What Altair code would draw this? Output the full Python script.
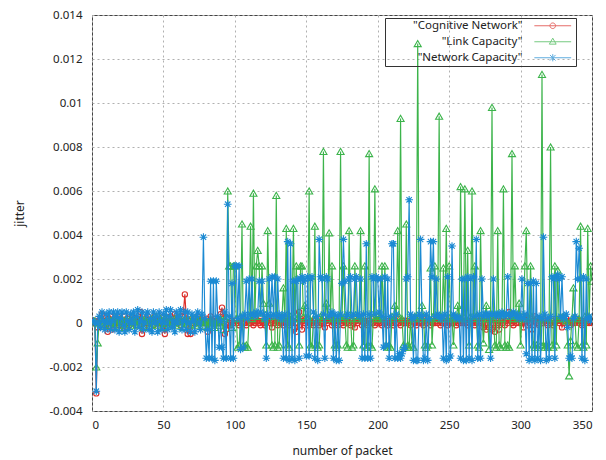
import altair as alt
import pandas as pd

# values in units of 1e-4 (jitter), packets 1..350
packets = list(range(1, 351))

cognitive = [
    0, 1, -32, -2, 1, 2, 4, 3, 1, -1,
    -4, 2, 3, -3, 1, 2, 0, 3, -1, 2,
    1, -2, 3, 0, 2, -1, 1, 3, 0, 2,
    -1, 2, 1, 5, -5, 2, 1, 0, 3, -2,
    1, 2, -1, 3, 0, 2, 1, -2, 1, 3,
    -5, 2, 0, 1, 3, -1, 2, 4, 1, 0,
    2, -1, 3, 5, 13, 2, -5, 1, -5, 0,
    2, 1, 0, 3, 1, 2, 0, 1, 0, 2,
    -4, 1, 3, 0, 1, 2, 0, 1, 0, 4,
    7, 3, -5, -3, -1, 0, -1, 1, 0, 1,
    1, 0, -1, 1, 0, 2, 0, -1, 1, 0,
    0, 1, -1, 0, 2, 1, 0, -1, 1, 0,
    -1, 0, 1, 2, 0, -2, 1, 0, 2, -1,
    0, 1, 0, -1, 1, 2, 0, -1, 1, 0,
    1, -2, -4, 0, 5, 2, -3, 1, 0, 2,
    -1, 0, 1, 0, -1, 1, 0, 2, -1, 0,
    1, 0, -2, 1, 0, 2, 1, -1, 0, 1,
    0, -1, 1, 2, 0, -1, 1, 0, 2, 0,
    -1, 1, 0, -2, 1, 0, 3, 1, -1, 0,
    1, 0, -1, 1, 0, 2, 0, -1, 1, 0,
    1, 0, -1, 2, 0, 1, -1, 0, 1, 0,
    -1, 1, 0, 2, 0, -1, 1, 0, 1, 0,
    1, 0, -1, 1, 2, 0, -1, 1, 0, 1,
    0, -1, 1, 0, 2, 1, -1, 0, 1, 0,
    1, 0, 2, -1, 0, 1, 0, 1, -1, 0,
    1, 0, 0, 1, -1, 0, 1, 0, 1, 0,
    1, 0, -1, 0, 1, 0, 1, -1, 0, 1,
    0, 1, 0, -2, 1, -3, 0, -2, 1, -3,
    0, -4, 1, 0, -3, 1, 0, 2, -1, 1,
    0, 5, 1, 0, -1, 1, 0, 2, 0, 1,
    0, -2, 1, 3, -1, 0, 2, -3, 1, 3,
    0, 2, -1, 1, 0, 2, 1, 0, -1, 1,
    0, 1, -1, 0, 2, 1, 0, 1, -2, 0,
    1, 2, 0, 1, -1, 0, 1, 0, 2, 1,
    0, 1, -1, 0, 1, 0, 1, 0, 1, 0,
]

link = [
    0, 1, -20, -9, 0, 1, 2, 0, -1, 1,
    -1, 2, 0, 1, -2, 1, 3, 0, -1, 2,
    0, 1, -2, 2, 1, 0, -1, 3, 1, 0,
    2, -1, 1, 0, 2, -2, 1, 3, 0, 1,
    -1, 2, 0, 1, 3, -1, 0, 2, 1, -2,
    1, 3, 0, -1, 2, 1, 0, 2, -1, 1,
    3, 0, 1, -2, 2, 1, 0, -1, 2, 1,
    0, 2, -1, 1, 0, 2, 1, -1, 0, 1,
    -2, 0, 2, -1, 0, -2, 1, -1, 0, 2,
    1, -3, 2, 3, 60, 26, 26, -2, 26, 26,
    2, -11, -10, 3, 45, -10, -11, -10, -11, 3,
    44, 2, 59, 3, 26, 33, 26, 3, 26, 9,
    2, -10, 42, 9, 3, -10, -11, -10, 58, -11,
    -10, 2, 3, 16, 2, 43, -10, -11, 3, 2,
    43, 3, 26, 2, -10, 26, 26, 3, 8, 2,
    3, 60, -10, -11, 2, 44, -10, -11, -10, 3,
    2, 78, 3, 9, 2, 41, 3, 26, 2, -10,
    -11, -10, 3, 78, 2, 26, 3, -10, -11, 42,
    2, -11, -10, 26, 3, 2, 3, 42, 2, -10,
    26, -11, -10, 77, -10, -11, 3, 61, 2, 3,
    2, 3, 26, 2, 26, -10, -11, -10, -11, 3,
    2, 8, 3, 42, 3, 93, 2, -10, -11, 45,
    -10, -11, 2, -10, -11, 3, 2, 127, 3, 2,
    8, 3, -10, -11, -10, 2, 25, -10, 3, 26,
    3, 2, 94, 3, 2, 25, 3, 43, 2, 26,
    3, 2, -10, 3, 2, 8, 3, 62, 2, 3,
    61, 2, 33, -10, 3, 60, 2, 26, 3, -10,
    -11, 42, 2, -9, 3, 8, 2, -12, 3, 98,
    2, -10, -11, 42, -10, -11, 2, 61, -10, -11,
    -10, -11, 3, 77, 2, 26, 3, 2, 9, -10,
    3, 2, 26, 42, 3, 2, 26, 3, -10, -11,
    -10, -11, 2, -10, 113, -10, -11, -10, -11, 2,
    80, -10, -11, 26, -10, 24, 2, 3, 2, 3,
    2, 1, -10, -24, -8, 2, 16, 3, -10, -11,
    2, 44, -10, -11, 3, -10, 43, 3, 26, 19,
]

network = [
    1, 0, -31, 0, 3, -2, 5, 1, -3, 4,
    0, 5, -3, 1, 5, -3, 3, 5, -4, 2,
    5, -1, -4, 5, 1, -3, 4, 0, 5, -4,
    3, 6, -2, 1, 5, -3, 0, 4, 5, -3,
    2, -4, 5, 0, 3, -4, 5, 1, -3, 4,
    0, 6, -3, 3, 6, -2, 1, -4, 5, 0,
    3, 6, -3, 1, 5, -3, 5, 0, -4, 4,
    1, -4, 3, 5, 0, -3, 4, 39, 2, -16,
    -3, -16, 19, -16, 19, -17, 19, 3, -11, 1,
    -11, -16, 5, -16, 54, 3, -16, 18, -16, 26,
    26, 2, 26, -12, 3, -11, 4, 19, 2, 20,
    4, 20, 4, 3, 5, 4, 19, 5, 19, 4,
    2, -16, 4, 20, 3, 21, 4, 21, 3, 20,
    4, 2, 3, -16, 4, -16, 37, -17, 36, -16,
    19, -17, 19, 20, -16, 20, 21, 19, 20, -15,
    21, -15, 20, 21, 5, -16, 3, -17, 38, 21,
    20, 4, -16, 21, 20, 3, 4, 5, -16, 4,
    -17, 3, -17, 4, 18, 38, 19, 3, 4, 20,
    21, 3, 4, 20, 21, 4, 3, 20, -16, 4,
    -16, 36, -16, 4, -16, 21, 20, 4, 21, 20,
    5, 20, 3, -11, 21, -10, 20, -16, 3, 36,
    36, -16, 4, -16, -14, -16, -14, -12, -11, 20,
    21, 56, 4, 2, -17, 3, -17, -17, 4, 38,
    3, -17, -16, 4, -17, 2, 37, 21, 37, 3,
    20, 4, 3, 2, 3, -16, 4, -17, 21, -16,
    -15, 35, 4, 3, 2, 3, 2, -16, 20, -17,
    20, -17, 21, -16, 20, -17, 21, 3, 38, -16,
    4, -16, 20, 3, 4, 4, 3, 4, -16, 4,
    20, 4, 3, 4, 4, 3, 5, 4, 3, 4,
    21, 4, 3, 4, 5, 4, 3, 4, 2, 3,
    20, 2, 4, -14, 18, -17, 18, -16, 19, -17,
    18, -16, 3, -17, 2, 39, 4, -17, 2, -16,
    3, 21, 20, -16, 21, 22, 20, 3, 21, 2,
    3, 4, -2, -16, -15, -16, 2, 3, 37, 20,
    34, 20, -16, 21, -17, 20, 2, 3, 1, 2,
]

SERIES = ['"Cognitive Network"', '"Link Capacity"', '"Network Capacity"']
COLORS = ["#dc2f2a", "#3cb44b", "#1b8ad3"]
MARKERS = [
    "circle",
    "triangle-up",
    "M-1,0L1,0M0,-1L0,1M-0.7,-0.7L0.7,0.7M-0.7,0.7L0.7,-0.7",
]
MARKER_SIZES = [28, 50, 60]
# legend sample: (invisible anchor at left) + line segment + marker, drawn to the right of the label
LEGEND_SYMBOLS = [
    "M-2.5,0M35.4,0L44.6,0M40.7,0A0.7,0.7,0,1,1,39.3,0A0.7,0.7,0,1,1,40.7,0",
    "M-2.5,0M35.4,0L44.6,0M40,-0.9L40.85,0.6L39.15,0.6Z",
    "M-2.5,0M35.4,0L44.6,0M40,-0.9L40,0.9M39.3,-0.7L40.7,0.7M39.3,0.7L40.7,-0.7",
]
X_TICKS = [0, 50, 100, 150, 200, 250, 300, 350]
Y_TICKS = [-0.004, -0.002, 0, 0.002, 0.004, 0.006, 0.008, 0.01, 0.012, 0.014]

rows = []
for name, vals in zip(SERIES, [cognitive, link, network]):
    for p, v in zip(packets, vals):
        rows.append({"packet": p, "jitter": v * 1e-4, "series": name})
df = pd.DataFrame(rows)

FONT = "Noto Sans"

x_enc = alt.X(
    "packet:Q",
    scale=alt.Scale(domain=[0, 350], nice=False, zero=False),
    axis=alt.Axis(values=X_TICKS, title="number of packet", labelPadding=8,
                  titlePadding=15, format="d"),
)
y_enc = alt.Y(
    "jitter:Q",
    scale=alt.Scale(domain=[-0.004, 0.014], nice=False, zero=False),
    axis=alt.Axis(values=Y_TICKS, title="jitter", labelPadding=10, titlePadding=22,
                  labelExpr="'' + round(datum.value * 1000) / 1000"),
)

base = alt.Chart(df)
layers = []
for name, color, marker, msize in zip(SERIES, COLORS, MARKERS, MARKER_SIZES):
    sub = base.transform_filter(alt.datum.series == name)
    layers.append(
        sub.mark_line(color=color, strokeWidth=1.15, clip=True).encode(x=x_enc, y=y_enc)
    )
    layers.append(
        sub.mark_point(shape=marker, filled=False, color=color, size=msize,
                       strokeWidth=1.1, opacity=1, clip=True).encode(x=x_enc, y=y_enc)
    )

legend = alt.Legend(
    title=None, orient="none", legendX=293, legendY=3, strokeColor="#333", padding=2,
    labelAlign="right", labelOffset=124, labelFont=FONT, labelFontSize=11.5,
    labelColor="#222", labelLimit=400, symbolSize=64, symbolStrokeWidth=1,
    rowPadding=3,
)
ghost = base.transform_filter("false").mark_point(filled=False, strokeWidth=1, size=64).encode(
    x=x_enc, y=y_enc,
    color=alt.Color("series:N", scale=alt.Scale(domain=SERIES, range=COLORS), legend=legend),
    shape=alt.Shape("series:N", scale=alt.Scale(domain=SERIES, range=LEGEND_SYMBOLS), legend=legend),
)
layers.append(ghost)

chart = alt.layer(*layers).properties(
    width=500, height=396,
    autosize=alt.AutoSizeParams(type="none"),
    padding={"left": 92, "top": 15, "right": 14, "bottom": 49},
    background="white",
).configure_view(
    stroke="#444", strokeWidth=1
).configure_axis(
    domain=False, ticks=False, grid=True, gridColor="#b0b0b0", gridDash=[2, 3],
    gridWidth=1, labelFont=FONT, labelFontSize=11.5, labelColor="#222",
    titleFont=FONT, titleFontSize=12, titleFontWeight="normal", titleColor="#222",
)

chart.save("out.html", embed_options={"renderer": "svg", "actions": False})
